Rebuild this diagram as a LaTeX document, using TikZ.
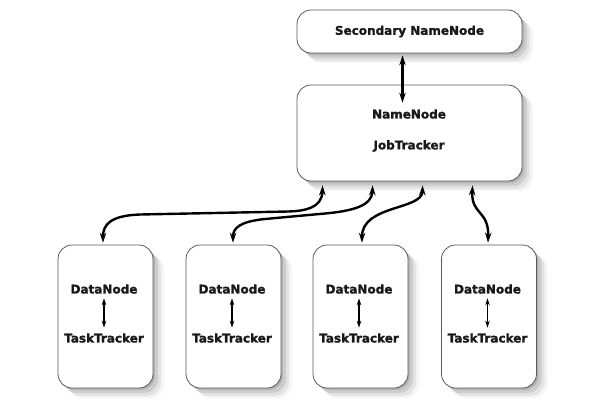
\documentclass[tikz,border=0pt]{standalone}
\usepackage{fontspec}
\setmainfont{DejaVu Sans}[BoldFeatures={FakeBold=1.5}]
\usetikzlibrary{arrows.meta,shadows,calc}
\begin{document}
\begin{tikzpicture}[x=1pt,y=-1pt,
 boxshadow/.style={
   general shadow={shadow xshift=2pt,shadow yshift=-2pt,fill=black,opacity=.12},
   general shadow={shadow xshift=5pt,shadow yshift=-5pt,fill=black,opacity=.10},
   general shadow={shadow xshift=8pt,shadow yshift=-8pt,fill=black,opacity=.07},
   general shadow={shadow xshift=11pt,shadow yshift=-10pt,fill=black,opacity=.04}},
 box/.style={draw=black!65,line width=0.8pt,fill=white,rounded corners=14pt,boxshadow,inner sep=0pt},
 lbl/.style={font=\bfseries\fontsize{12}{14}\selectfont,text=black!90,inner sep=0pt},
 conn/.style={line width=2.4pt,>={Stealth[length=10pt,width=6.5pt]},<->},
 smallconn/.style={line width=1.3pt,>={Stealth[length=7pt,width=4.5pt]},<->,shorten <=4.5pt,shorten >=5.5pt}
]
\useasboundingbox (0,0) rectangle (600,400);

\node[box,lbl,draw=black!65,minimum width=225pt,minimum height=43pt] (snn) at (409.5,31.5) {Secondary NameNode};
\node[box,minimum width=225pt,minimum height=96pt] (nn) at (409.5,133) {};
\node[lbl] (nnl) at (409,114) {NameNode};
\node[lbl] (jtl) at (409,146) {JobTracker};

\foreach \i/\x in {1/105.5,2/233.5,3/360.5,4/489}{
  \node[box,minimum width=95pt,minimum height=143pt] (b\i) at (\x,316.5) {};
  \node[lbl] (dn\i) at (\x-1.5,289) {DataNode};
  \node[lbl] (tt\i) at (\x-1.5,338) {TaskTracker};
  \draw[smallconn] (dn\i) -- (tt\i);
}

\coordinate (s1) at ($(snn.south)+(-7,2)$);
\coordinate (s2) at ($(nn.north)+(-7,18)$);
\draw[conn] (s1) -- (s2);

\coordinate (a1) at ($(nn.south west)+(26,4)$);
\coordinate (a2) at ($(nn.south west)+(76,4)$);
\coordinate (a3) at ($(nn.south west)+(126,4)$);
\coordinate (a4) at ($(nn.south west)+(176,4)$);
\coordinate (e1) at ($(b1.north)+(-2.5,-2)$);
\coordinate (e2) at ($(b2.north)+(-0.5,-2)$);
\coordinate (e3) at ($(b3.north)+(1.5,-2)$);
\coordinate (e4) at ($(b4.north)+(-1,-2)$);

\draw[conn] (a1) .. controls (322,208) and (305,211) .. (288,211.5) -- (140,214.5) .. controls (110,215.5) and (103,225) .. (e1);
\draw[conn] (a2) .. controls (372,206) and (352,211) .. (325,213.5) -- (265,219) .. controls (240,221.5) and (233,228) .. (e2);
\draw[conn] (a3) .. controls (422,210) and (362,205) .. (e3);
\draw[conn] (a4) .. controls (471,215) and (489,210) .. (e4);
\end{tikzpicture}
\end{document}
